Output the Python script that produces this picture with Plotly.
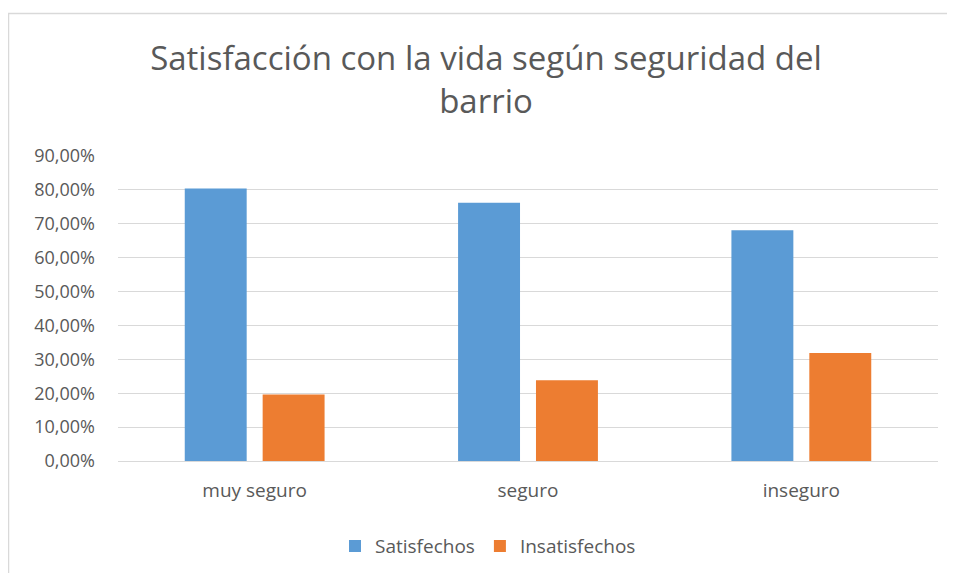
import plotly.graph_objects as go

# ------------------------------------------------------------
# data
# ------------------------------------------------------------
categorias = ["muy seguro", "seguro", "inseguro"]
satisfechos = [0.804, 0.762, 0.681]
insatisfechos = [0.196, 0.238, 0.319]
ticks_y = [0, 0.1, 0.2, 0.3, 0.4, 0.5, 0.6, 0.7, 0.8, 0.9]

# page puts the figure 8px in from the corner, so size it to fit the window
W, H = 947, 569
L, R, T, B = 110, 930, 148, 456   # plot area in figure pixels

gris = "#595959"
fuente = "Open Sans, Liberation Sans, sans-serif"


def xp(px):
    return (px - L) / (R - L)


def yp(py):
    return (B - py) / (B - T)


fig = go.Figure()
fig.add_trace(go.Bar(x=categorias, y=satisfechos, name="Satisfechos",
                     marker=dict(color="#5B9BD5", line=dict(width=0))))
fig.add_trace(go.Bar(x=categorias, y=insatisfechos, name="Insatisfechos",
                     marker=dict(color="#ED7D31", line=dict(width=0))))

# chart frame: only top and left edges show in the screenshot
fig.add_shape(type="line", xref="paper", yref="paper",
              x0=xp(0), x1=xp(W), y0=yp(4), y1=yp(4),
              line=dict(color="#d9d9d9", width=1.5))
fig.add_shape(type="line", xref="paper", yref="paper",
              x0=xp(0.5), x1=xp(0.5), y0=yp(4), y1=yp(H),
              line=dict(color="#d9d9d9", width=1.5))

fig.update_layout(
    width=W, height=H,
    margin=dict(l=L, r=W - R, t=T, b=H - B),
    paper_bgcolor="white", plot_bgcolor="white",
    separators=",.",
    font=dict(family=fuente, color=gris, size=18),
    title=dict(text="Satisfacción con la vida según seguridad del<br>barrio",
               x=478 / W, xanchor="center", xref="container",
               y=1 - 62 / H, yanchor="middle", yref="container",
               font=dict(size=33, color=gris, family=fuente)),
    barmode="group", bargap=0.43, bargroupgap=0.205,
    xaxis=dict(showgrid=False, showline=False, ticks="",
               ticklabelstandoff=16,
               tickfont=dict(size=19, color=gris)),
    yaxis=dict(range=[0, 0.9], tickvals=ticks_y, tickformat=".2%",
               showgrid=True, gridcolor="#d9d9d9", gridwidth=1,
               zeroline=True, zerolinecolor="#d9d9d9", zerolinewidth=1,
               showline=False, ticks="", ticklabelstandoff=22,
               tickfont=dict(size=18, color=gris)),
    legend=dict(orientation="h", x=xp(480), xanchor="center",
                y=yp(542), yanchor="middle",
                font=dict(size=19, color=gris), itemwidth=30),
    showlegend=True,
)

fig.write_html("out.html")
